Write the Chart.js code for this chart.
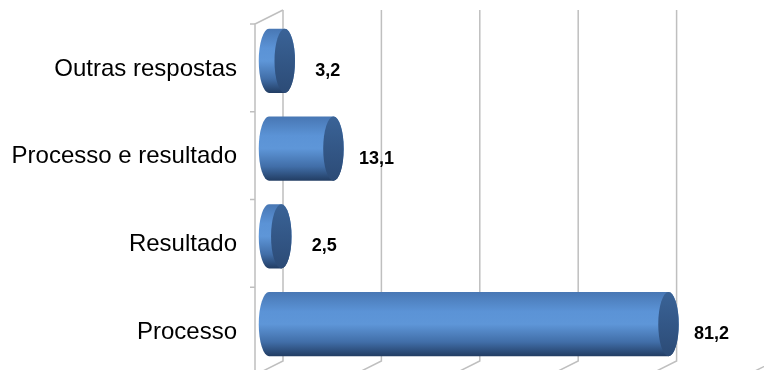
<!DOCTYPE html>
<html>
<head>
<meta charset="utf-8">
<script src="https://cdn.jsdelivr.net/npm/chart.js@4.4.1/dist/chart.umd.min.js"></script>
<style>
  html, body { margin: 0; padding: 0; background: #fff; }
  #wrap { width: 764px; height: 370px; }
</style>
</head>
<body>
<div id="wrap"><canvas id="chart"></canvas></div>
<script>
// Chart data
const categories = ['Outras respostas', 'Processo e resultado', 'Resultado', 'Processo'];
const percentValues = [3.2, 13.1, 2.5, 81.2];
const axisMax = 100;
const axisStep = 20;

// Half depth of the fake 3D box (back wall is +dx/-dy, front plane is -dx/+dy)
const DEPTH_X = 14;
const DEPTH_Y = 7;
const GRID_COLOR = '#bfbfbf';

function fmt(v) {
    return v.toFixed(1).replace('.', ',');
}

// Walls, floor lines and front axis
const boxPlugin = {
    id: 'box3d',
    beforeDatasetsDraw(chart) {
        const ctx = chart.ctx;
        const xs = chart.scales.x;
        const top = chart.chartArea.top;
        const bottom = chart.chartArea.bottom;
        ctx.save();
        ctx.strokeStyle = GRID_COLOR;
        ctx.lineWidth = 1.5;

        // back wall gridlines + floor diagonals
        xs.ticks.forEach(t => {
            const xb = xs.getPixelForValue(t.value) + DEPTH_X;
            ctx.beginPath();
            ctx.moveTo(xb, top - DEPTH_Y);
            ctx.lineTo(xb, bottom - DEPTH_Y);
            ctx.lineTo(xb - 2 * DEPTH_X, bottom + DEPTH_Y);
            ctx.stroke();
        });

        // left wall top edge and front axis
        const x0 = xs.getPixelForValue(0);
        ctx.beginPath();
        ctx.moveTo(x0 + DEPTH_X, top - DEPTH_Y);
        ctx.lineTo(x0 - DEPTH_X, top + DEPTH_Y);
        ctx.lineTo(x0 - DEPTH_X, bottom + DEPTH_Y + 10);
        ctx.stroke();

        // category tick marks on the front axis
        const band = (bottom - top) / categories.length;
        for (let i = 0; i <= categories.length; i++) {
            const y = top + i * band + DEPTH_Y;
            ctx.beginPath();
            ctx.moveTo(x0 - DEPTH_X - 5, y);
            ctx.lineTo(x0 - DEPTH_X, y);
            ctx.stroke();
        }
        ctx.restore();
    },

    // cylinders and value labels
    afterDatasetsDraw(chart) {
        const ctx = chart.ctx;
        const meta = chart.getDatasetMeta(0);
        ctx.save();
        meta.data.forEach((bar, i) => {
            const y = bar.y;
            const h = bar.height;
            const ry = h / 2;
            const rx = h * 0.16;
            const xa = bar.base;
            const xb = bar.x;

            const body = ctx.createLinearGradient(0, y - ry, 0, y + ry);
            body.addColorStop(0, '#4877b4');
            body.addColorStop(0.3, '#5b93d6');
            body.addColorStop(0.5, '#5e96d8');
            body.addColorStop(0.78, '#416ea8');
            body.addColorStop(1, '#223d63');

            ctx.beginPath();
            ctx.ellipse(xa, y, rx, ry, 0, Math.PI / 2, Math.PI * 1.5);
            ctx.lineTo(xb, y - ry);
            ctx.ellipse(xb, y, rx, ry, 0, -Math.PI / 2, Math.PI / 2);
            ctx.closePath();
            ctx.fillStyle = body;
            ctx.fill();

            const cap = ctx.createLinearGradient(0, y - ry, 0, y + ry);
            cap.addColorStop(0, '#3a6397');
            cap.addColorStop(1, '#2c4b76');
            ctx.beginPath();
            ctx.ellipse(xb, y, rx, ry, 0, 0, Math.PI * 2);
            ctx.fillStyle = cap;
            ctx.fill();

            ctx.fillStyle = '#000';
            ctx.font = 'bold 18px "Liberation Sans", Arial, sans-serif';
            ctx.textAlign = 'center';
            ctx.textBaseline = 'middle';
            ctx.fillText(fmt(percentValues[i]), xb + 43, y + 10);
        });
        ctx.restore();
    }
};

const ctx = document.getElementById('chart').getContext('2d');
new Chart(ctx, {
    type: 'bar',
    data: {
        labels: categories,
        datasets: [{
            data: percentValues,
            backgroundColor: 'rgba(0,0,0,0)',
            categoryPercentage: 1,
            barPercentage: 0.73
        }]
    },
    options: {
        indexAxis: 'y',
        responsive: true,
        maintainAspectRatio: false,
        animation: false,
        layout: { padding: { top: 17, bottom: 2, right: 3, left: 0 } },
        plugins: {
            legend: { display: false },
            tooltip: { enabled: false }
        },
        scales: {
            x: {
                display: false,
                min: 0,
                max: axisMax,
                ticks: { stepSize: axisStep }
            },
            y: {
                grid: { display: false, drawTicks: false },
                border: { display: false },
                ticks: {
                    color: '#000',
                    padding: 32,
                    labelOffset: 8,
                    font: { family: '"Liberation Sans", Arial, sans-serif', size: 24 }
                },
                afterFit(scale) {
                    scale.width = 269;
                    scale.paddingTop = 0;
                    scale.paddingBottom = 0;
                }
            }
        }
    },
    plugins: [boxPlugin]
});
</script>
</body>
</html>
